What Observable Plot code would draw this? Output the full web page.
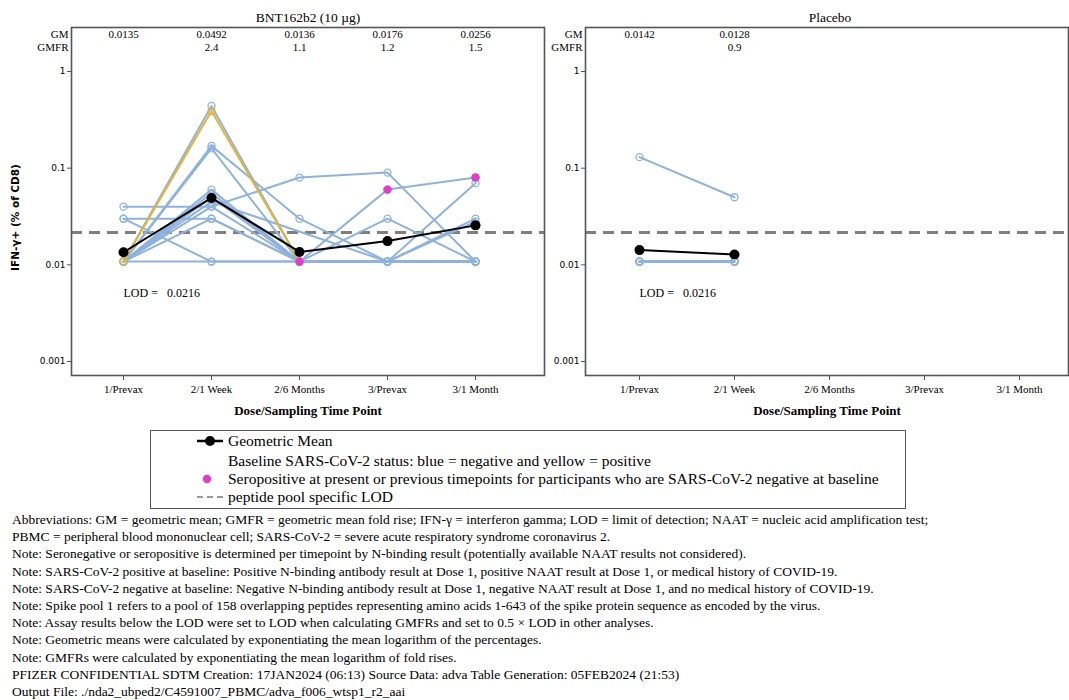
<!DOCTYPE html>
<html><head><meta charset="utf-8">
<script src="https://cdn.jsdelivr.net/npm/d3@7"></script>
<script src="https://cdn.jsdelivr.net/npm/@observablehq/plot@0.6"></script>
<style>
body{margin:0;background:#fff;width:1069px;height:700px;overflow:hidden;position:relative;font-family:"Liberation Serif",serif;color:#000}
#left{position:absolute;left:0;top:0}
#right{position:absolute;left:548px;top:0}
#legend{position:absolute;left:150px;top:430px;width:756px;height:79px;border:1.5px solid #555;box-sizing:border-box;font-size:15.5px}
.lrow{position:absolute;left:0;height:18px;width:100%}
.lrow svg{position:absolute;left:44px;top:0}
.lrow span{position:absolute;left:77px;top:0;line-height:18px;white-space:nowrap}
#notes{position:absolute;left:12px;top:511px;font-size:13.5px;line-height:17.2px;white-space:nowrap}
</style></head>
<body>
<div id="left"></div>
<div id="right"></div>
<div id="legend"></div>
<div id="notes"></div>
<script>
// ---------- data ----------
const timepoints = ["1/Prevax", "2/1 Week", "2/6 Months", "3/Prevax", "3/1 Month"];
const LOD = 0.0216;
const lodLabel = "LOD =\u00a0\u00a0 0.0216";
const yTicks = [0.001, 0.01, 0.1, 1];

const bntTitle = "BNT162b2 (10 µg)";
const bntGM = [0.0135, 0.0492, 0.0136, 0.0176, 0.0256];
const bntGMFR = ["", "2.4", "1.1", "1.2", "1.5"];
const bntIds = ["B01","B02","B03","B04","B05","B06","B07","B08","B09","B10","B11","B12","B13","B14"];
const bntBaseline = ["pos","neg","neg","neg","neg","neg","neg","neg","neg","neg","neg","neg","neg","neg"];
const bntValues = [
  [0.0108, 0.39, 0.0108, null, null],
  [0.0108, 0.44, 0.0108, 0.0108, 0.0108],
  [0.0108, 0.17, 0.03, 0.0108, 0.0108],
  [0.0108, 0.16, 0.0108, 0.0108, 0.03],
  [0.0108, 0.06, 0.0108, 0.03, 0.0108],
  [0.04, 0.04, 0.08, 0.09, 0.0108],
  [0.03, 0.03, 0.0108, 0.0108, 0.07],
  [0.03, 0.0108, 0.0108, 0.0108, 0.0108],
  [0.0108, 0.05, 0.0108, 0.06, 0.08],
  [0.0108, 0.04, 0.0108, 0.0108, 0.028],
  [0.0108, 0.0108, 0.0108, 0.0108, 0.0108],
  [0.0108, 0.03, 0.0108, 0.0108, 0.0108],
  [0.0108, 0.055, 0.0108, 0.0108, 0.0108],
  [0.0108, 0.045, null, 0.0108, 0.0108]
];
// seropositive (N-binding) flags per time point for baseline-negative participants
const bntSeropos = [
  [0,0,0,0,0],[0,0,0,0,0],[0,0,0,0,0],[0,0,0,0,0],[0,0,0,0,0],[0,0,0,0,0],[0,0,0,0,0],
  [0,0,0,0,0],[0,0,1,1,1],[0,0,0,0,0],[0,0,0,0,0],[0,0,0,0,0],[0,0,0,0,0],[0,0,0,0,0]
];

const plaTitle = "Placebo";
const plaGM = [0.0142, 0.0128, null, null, null];
const plaGMFR = ["", "0.9", "", "", ""];
const plaIds = ["P01","P02","P03","P04","P05","P06","P07","P08","P09"];
const plaBaseline = ["neg","neg","neg","neg","neg","neg","neg","neg","neg"];
const plaValues = [
  [0.13, 0.05, null, null, null],
  [0.0108, 0.0108, null, null, null],
  [0.0108, 0.0108, null, null, null],
  [0.0108, 0.0108, null, null, null],
  [0.0108, 0.0108, null, null, null],
  [0.0108, 0.0108, null, null, null],
  [0.0108, 0.0108, null, null, null],
  [0.0108, 0.0108, null, null, null],
  [0.0108, 0.0108, null, null, null]
];
const plaSeropos = plaIds.map(() => [0,0,0,0,0]);

const yLabel = "IFN-γ+ (% of CD8)";
const xLabel = "Dose/Sampling Time Point";

const legendItems = [
  "Geometric Mean",
  "Baseline SARS-CoV-2 status: blue = negative and yellow = positive",
  "Seropositive at present or previous timepoints for participants who are SARS-CoV-2 negative at baseline",
  "peptide pool specific LOD"
];
const footnotes = [
  "Abbreviations: GM = geometric mean; GMFR = geometric mean fold rise; IFN-γ = interferon gamma; LOD = limit of detection; NAAT = nucleic acid amplification test;",
  "PBMC = peripheral blood mononuclear cell; SARS-CoV-2 = severe acute respiratory syndrome coronavirus 2.",
  "Note: Seronegative or seropositive is determined per timepoint by N-binding result (potentially available NAAT results not considered).",
  "Note: SARS-CoV-2 positive at baseline: Positive N-binding antibody result at Dose 1, positive NAAT result at Dose 1, or medical history of COVID-19.",
  "Note: SARS-CoV-2 negative at baseline: Negative N-binding antibody result at Dose 1, negative NAAT result at Dose 1, and no medical history of COVID-19.",
  "Note: Spike pool 1 refers to a pool of 158 overlapping peptides representing amino acids 1-643 of the spike protein sequence as encoded by the virus.",
  "Note: Assay results below the LOD were set to LOD when calculating GMFRs and set to 0.5 × LOD in other analyses.",
  "Note: Geometric means were calculated by exponentiating the mean logarithm of the percentages.",
  "Note: GMFRs were calculated by exponentiating the mean logarithm of fold rises.",
  "PFIZER CONFIDENTIAL  SDTM Creation: 17JAN2024 (06:13)  Source Data: adva  Table Generation: 05FEB2024 (21:53)",
  "Output File: ./nda2_ubped2/C4591007_PBMC/adva_f006_wtsp1_r2_aai"
];

// ---------- style ----------
const BLUE = "#8fb2dd", YELLOW = "#e6b433", PINK = "#e23cc6", LODGREY = "#7f7f7f", FRAME = "#555";

function rowsOf(ids, base, vals, sero) {
  const out = [];
  ids.forEach((id, s) => vals[s].forEach((v, i) => {
    if (v != null) out.push({id, t: timepoints[i], v, base: base[s], pink: !!sero[s][i]});
  }));
  return out;
}

function panel({title, gm, gmfr, rows, width, marginLeft, marginRight, xRange, showYLabel, titleDx}) {
  const gmRows = timepoints.map((t, i) => ({t, v: gm[i]})).filter(d => d.v != null);
  const negRows = rows.filter(d => d.base === "neg");
  const posRows = rows.filter(d => d.base === "pos");
  const marks = [
    Plot.ruleY([LOD], {stroke: LODGREY, strokeWidth: 3, strokeDasharray: "11,7"}),
    Plot.line(negRows, {x: "t", y: "v", z: "id", stroke: BLUE, strokeWidth: 2}),
    Plot.dot(negRows, {x: "t", y: "v", stroke: BLUE, fill: "none", r: 3.5, strokeWidth: 1.3}),
    Plot.line(posRows, {x: "t", y: "v", z: "id", stroke: YELLOW, strokeWidth: 2}),
    Plot.dot(posRows, {x: "t", y: "v", stroke: YELLOW, fill: "none", r: 3.5, strokeWidth: 1.3}),
    Plot.dot(rows.filter(d => d.pink), {x: "t", y: "v", fill: PINK, r: 4.2}),
    Plot.line(gmRows, {x: "t", y: "v", stroke: "black", strokeWidth: 2}),
    Plot.dot(gmRows, {x: "t", y: "v", fill: "black", r: 5}),
    Plot.frame({stroke: FRAME, strokeWidth: 1.6}),
    Plot.axisY({ticks: yTicks, tickFormat: d => String(d), tickSize: 4, tickPadding: 2,
      fontFamily: "DejaVu Sans", fontSize: 9, label: null, stroke: FRAME}),
    Plot.axisX({tickSize: 5, tickPadding: 5, fontSize: 11, label: null, stroke: FRAME}),
    Plot.text([title], {frameAnchor: "top", dy: -10, dx: titleDx, lineAnchor: "middle", fontSize: 13.5}),
    Plot.text(timepoints, {x: d => d, text: (d, i) => gm[i] == null ? "" : String(gm[i]), frameAnchor: "top", dy: 7, lineAnchor: "middle", fontSize: 11}),
    Plot.text(timepoints, {x: d => d, text: (d, i) => gmfr[i], frameAnchor: "top", dy: 20, lineAnchor: "middle", fontSize: 11}),
    Plot.text(["GM"], {frameAnchor: "top-left", dx: -3, dy: 7, textAnchor: "end", lineAnchor: "middle", fontSize: 11}),
    Plot.text(["GMFR"], {frameAnchor: "top-left", dx: -3, dy: 20, textAnchor: "end", lineAnchor: "middle", fontSize: 11}),
    Plot.text([lodLabel], {x: () => timepoints[0], y: () => 0.0051, textAnchor: "start", dx: 0, fontSize: 12}),
    Plot.text([xLabel], {frameAnchor: "bottom", dy: 35, lineAnchor: "middle", fontWeight: "bold", fontSize: 13})
  ];
  if (showYLabel) marks.push(Plot.text([yLabel], {frameAnchor: "left", dx: -56, dy: 16, rotate: -90,
    textAnchor: "middle", lineAnchor: "middle", fontFamily: "DejaVu Sans", fontWeight: "bold", fontSize: 10.5}));
  return Plot.plot({
    width, height: 420, marginTop: 27, marginBottom: 45, marginLeft, marginRight,
    style: {fontFamily: "Liberation Serif", fontSize: "11px", background: "transparent", overflow: "visible", color: "#000"},
    x: {type: "point", domain: timepoints, range: xRange, padding: 0},
    y: {type: "log", domain: [0.001, 1], range: [361, 71]},
    marks
  });
}

document.getElementById("left").append(panel({
  title: bntTitle, gm: bntGM, gmfr: bntGMFR, rows: rowsOf(bntIds, bntBaseline, bntValues, bntSeropos),
  width: 548, marginLeft: 71, marginRight: 4, xRange: [122, 475], showYLabel: true, titleDx: 0
}));
document.getElementById("right").append(panel({
  title: plaTitle, gm: plaGM, gmfr: plaGMFR, rows: rowsOf(plaIds, plaBaseline, plaValues, plaSeropos),
  width: 521, marginLeft: 37, marginRight: 1, xRange: [91, 471], showYLabel: false, titleDx: 3
}));

// ---------- legend ----------
const lg = document.getElementById("legend");
const rowTops = [1, 21, 39, 57];
const symbols = [
  `<svg width="30" height="18"><line x1="2" x2="28" y1="9" y2="9" stroke="black" stroke-width="2.5"/><circle cx="15" cy="9" r="5" fill="black"/></svg>`,
  ``,
  `<svg width="30" height="18"><circle cx="12" cy="9" r="4.2" fill="${PINK}"/></svg>`,
  `<svg width="30" height="18"><line x1="2" x2="28" y1="9" y2="9" stroke="#9a9a9a" stroke-width="2" stroke-dasharray="6,4"/></svg>`
];
legendItems.forEach((t, i) => {
  const r = document.createElement("div");
  r.className = "lrow";
  r.style.top = rowTops[i] + "px";
  r.innerHTML = symbols[i] + `<span></span>`;
  r.querySelector("span").textContent = t;
  lg.append(r);
});

// ---------- footnotes ----------
const nt = document.getElementById("notes");
footnotes.forEach(t => { const d = document.createElement("div"); d.textContent = t; nt.append(d); });
</script>
</body></html>
